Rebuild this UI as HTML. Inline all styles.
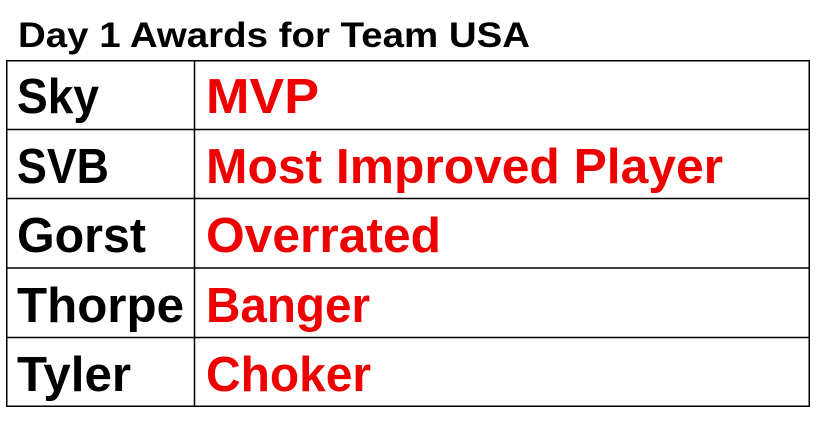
<!DOCTYPE html>
<html>
<head>
<meta charset="utf-8">
<style>
  html,body{margin:0;padding:0;background:#fff;}
  body{width:822px;height:428px;overflow:hidden;}
  svg{display:block;}
  text{font-family:"Liberation Sans",Arial,sans-serif;font-weight:bold;}
</style>
</head>
<body>
<svg width="822" height="428" viewBox="0 0 822 428" xmlns="http://www.w3.org/2000/svg">
  <rect x="0" y="0" width="822" height="428" fill="#fff"/>
  <text x="18" y="47" font-size="35" fill="#000" textLength="512" lengthAdjust="spacingAndGlyphs">Day 1 Awards for Team USA</text>

  <g stroke="#000" stroke-width="1.5" fill="none">
    <rect x="6.75" y="60.75" width="802.5" height="345.5"/>
    <line x1="194.5" y1="60" x2="194.5" y2="407"/>
    <line x1="6" y1="129.5" x2="810" y2="129.5"/>
    <line x1="6" y1="198.5" x2="810" y2="198.5"/>
    <line x1="6" y1="268" x2="810" y2="268"/>
    <line x1="6" y1="337.5" x2="810" y2="337.5"/>
  </g>

  <g font-size="49" fill="#000">
    <text x="17" y="113" textLength="82" lengthAdjust="spacingAndGlyphs">Sky</text>
    <text x="17" y="183" textLength="92" lengthAdjust="spacingAndGlyphs">SVB</text>
    <text x="17" y="252" textLength="129" lengthAdjust="spacingAndGlyphs">Gorst</text>
    <text x="17" y="322" textLength="167" lengthAdjust="spacingAndGlyphs">Thorpe</text>
    <text x="17" y="391" textLength="114" lengthAdjust="spacingAndGlyphs">Tyler</text>
  </g>
  <g font-size="49" fill="#ee0000">
    <text x="206" y="113" textLength="113" lengthAdjust="spacingAndGlyphs">MVP</text>
    <text x="206" y="183" textLength="517" lengthAdjust="spacingAndGlyphs">Most Improved Player</text>
    <text x="206" y="252" textLength="235" lengthAdjust="spacingAndGlyphs">Overrated</text>
    <text x="206" y="322" textLength="164" lengthAdjust="spacingAndGlyphs">Banger</text>
    <text x="206" y="391" textLength="165" lengthAdjust="spacingAndGlyphs">Choker</text>
  </g>
</svg>
</body>
</html>
